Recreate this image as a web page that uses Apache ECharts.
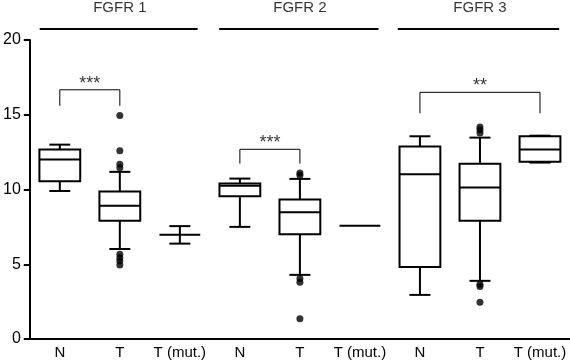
<!DOCTYPE html>
<html><head><meta charset="utf-8">
<script src="https://cdn.jsdelivr.net/npm/echarts@6/dist/echarts.min.js"></script>
<style>html,body{margin:0;padding:0;background:#fff}#c{width:570px;height:361px}</style>
</head><body><div id="c"></div>
<script>
// Categories (x axis), grouped by receptor
const categories = ['N','T','T (mut.)','N','T','T (mut.)','N','T','T (mut.)'];
const groupNames = ['FGFR 1','FGFR 2','FGFR 3'];
const groupCenters = [1, 4, 7];
// Box stats: [categoryIndex, min(whisker), Q1, median, Q3, max(whisker)]
const boxStats = [
  [0, 9.9, 10.55, 12.0, 12.67, 13.0],
  [1, 6.02, 7.91, 8.91, 9.87, 11.18],
  [2, 6.38, 6.98, 6.98, 6.98, 7.55],
  [3, 7.5, 9.55, 10.25, 10.4, 10.73],
  [4, 4.29, 7.0, 8.47, 9.33, 10.71],
  [5, 7.58, 7.58, 7.58, 7.58, 7.58],
  [6, 2.95, 4.82, 11.02, 12.87, 13.56],
  [7, 3.89, 7.91, 10.13, 11.73, 13.47],
  [8, 11.8, 11.85, 12.67, 13.56, 13.6]
];
// Outliers: [categoryIndex, value]
const outliers = [
  [1, 14.95],[1, 12.6],[1, 11.69],[1, 11.45],[1, 5.67],[1, 5.44],[1, 5.22],[1, 4.95],
  [4, 11.1],[4, 10.95],[4, 4.05],[4, 3.8],[4, 1.35],
  [7, 14.18],[7, 14.0],[7, 13.78],[7, 3.67],[7, 3.51],[7, 2.45]
];
// Significance brackets: [fromIndex, toIndex, bottomValue, topValue, label]
const brackets = [
  [0, 1, 15.6, 16.67, '***'],
  [3, 4, 11.73, 12.69, '***'],
  [6, 8, 15.1, 16.5, '**']
];
// Group header lines: [fromX, toX] in category units, at header level
const groupSpans = [[-0.335, 2.296], [2.655, 5.31], [5.63, 8.32]];
const headerLineValue = 20.73;
const headerTextValue = 22.13;
const yTicks = { min: 0, max: 20, interval: 5 };

const chart = echarts.init(document.getElementById('c'), null, {renderer: 'canvas'});
const FONT = 'Liberation Sans, Arial, Helvetica, sans-serif';
const INK = '#000';

const overlaySeries = [];
brackets.forEach(b => {
  overlaySeries.push({
    type: 'line', xAxisIndex: 1, yAxisIndex: 0, clip: false, symbol: 'none', silent: true,
    lineStyle: {color: INK, width: 1},
    data: [[b[0], b[2]], [b[0], b[3]], [b[1], b[3]], [b[1], b[2]]]
  });
  overlaySeries.push({
    type: 'scatter', xAxisIndex: 1, yAxisIndex: 0, clip: false, symbolSize: 0, silent: true,
    label: {show: true, position: 'top', distance: -3, formatter: b[4], color: INK, fontSize: 18, fontFamily: FONT},
    data: [[(b[0] + b[1]) / 2, b[3]]]
  });
});
groupSpans.forEach(s => {
  overlaySeries.push({
    type: 'line', xAxisIndex: 1, yAxisIndex: 0, clip: false, symbol: 'none', silent: true,
    lineStyle: {color: INK, width: 2},
    data: [[s[0], headerLineValue], [s[1], headerLineValue]]
  });
});
overlaySeries.push({
  type: 'scatter', xAxisIndex: 1, yAxisIndex: 0, clip: false, symbolSize: 0, silent: true,
  label: {show: true, position: 'inside', formatter: p => p.name, color: INK, fontSize: 15, fontFamily: FONT},
  data: groupNames.map((n, i) => ({name: n, value: [groupCenters[i], headerTextValue]}))
});

chart.setOption({
  animation: false,
  backgroundColor: '#fff',
  grid: {left: 26, right: 0, top: 40, bottom: 22},
  xAxis: [{
    type: 'category', data: categories, boundaryGap: true,
    axisLine: {lineStyle: {color: INK, width: 2}},
    axisTick: {show: false},
    axisLabel: {color: INK, fontSize: 15, fontFamily: FONT, margin: 6, interval: 0},
    splitLine: {show: false}
  }, {
    type: 'value', min: -0.5, max: 8.5, show: false
  }],
  yAxis: {
    type: 'value', min: yTicks.min, max: yTicks.max, interval: yTicks.interval,
    axisLine: {show: true, onZero: false, lineStyle: {color: INK, width: 2}},
    axisTick: {show: true, length: 6, lineStyle: {color: INK, width: 2}},
    axisLabel: {color: INK, fontSize: 16, fontFamily: FONT, margin: 9},
    splitLine: {show: false}
  },
  series: [{
    type: 'custom', xAxisIndex: 0, yAxisIndex: 0,
    data: boxStats,
    renderItem: function (params, api) {
      const x = api.value(0);
      const pMin = api.coord([x, api.value(1)]);
      const pQ1 = api.coord([x, api.value(2)]);
      const pMed = api.coord([x, api.value(3)]);
      const pQ3 = api.coord([x, api.value(4)]);
      const pMax = api.coord([x, api.value(5)]);
      const band = api.size([1, 0])[0];
      const hw = band * 0.34, cw = band * 0.175;
      const cx = pMed[0];
      const st = {stroke: INK, lineWidth: 2, fill: null};
      const children = [];
      if (pMax[1] < pQ3[1] - 0.5) {
        children.push({type: 'line', shape: {x1: cx, y1: pMax[1], x2: cx, y2: pQ3[1]}, style: st});
      }
      if (pMin[1] > pQ1[1] + 0.5) {
        children.push({type: 'line', shape: {x1: cx, y1: pQ1[1], x2: cx, y2: pMin[1]}, style: st});
      }
      if (Math.abs(pMax[1] - pMed[1]) > 0.5) {
        children.push({type: 'line', shape: {x1: cx - cw, y1: pMax[1], x2: cx + cw, y2: pMax[1]}, style: st});
      }
      if (Math.abs(pMin[1] - pMed[1]) > 0.5) {
        children.push({type: 'line', shape: {x1: cx - cw, y1: pMin[1], x2: cx + cw, y2: pMin[1]}, style: st});
      }
      if (pQ1[1] - pQ3[1] > 0.5) {
        children.push({type: 'rect', shape: {x: cx - hw, y: pQ3[1], width: 2 * hw, height: pQ1[1] - pQ3[1]}, style: {stroke: INK, lineWidth: 2, fill: '#fff'}});
      }
      children.push({type: 'line', shape: {x1: cx - hw, y1: pMed[1], x2: cx + hw, y2: pMed[1]}, style: st});
      return {type: 'group', children: children};
    }
  }, {
    type: 'scatter', xAxisIndex: 0, yAxisIndex: 0, symbolSize: 7,
    itemStyle: {color: INK}, z: 3,
    data: outliers
  }].concat(overlaySeries)
});
</script></body></html>
